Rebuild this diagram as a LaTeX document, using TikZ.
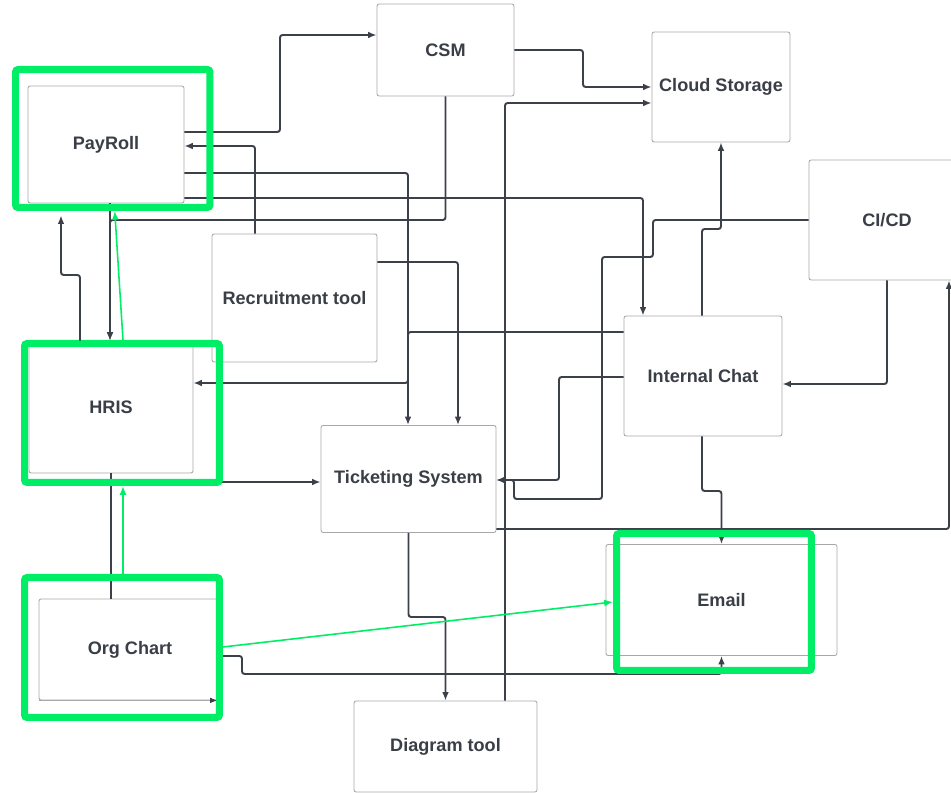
\documentclass[tikz,border=0pt]{standalone}
\usepackage{fontspec}
\setmainfont{Liberation Sans}
\usetikzlibrary{arrows.meta}
\definecolor{linec}{HTML}{3B4049}
\definecolor{boxc}{HTML}{A8A8A8}
\definecolor{hlgreen}{HTML}{00EE66}
\definecolor{textc}{HTML}{3A3E46}
\tikzset{
  sysbox/.style={draw=boxc, line width=0.5pt, fill=white, rounded corners=1.2pt, inner sep=0pt,
    font=\fontsize{10.3}{12}\selectfont\bfseries, text=textc},
  conn/.style={draw=linec, line width=1.1pt, rounded corners=1.5pt, -{Latex[length=4.8pt,width=3.8pt]}},
  plainconn/.style={draw=linec, line width=1.1pt},
  hlframe/.style={draw=hlgreen, line width=4pt, rounded corners=1.5pt, inner sep=0pt},
  hlarrow/.style={draw=hlgreen, line width=0.9pt, -{Latex[length=5pt,width=4pt]}},
}
\begin{document}
\begin{tikzpicture}[x=0.02cm, y=-0.02cm]
\useasboundingbox (0,0) rectangle (951,793);
\clip (0,0) rectangle (951,793);
%\draw[help lines, gray, step=50] (0,0) grid (951,793);
\node[sysbox, minimum width=3.12cm, minimum height=2.34cm] (payroll) at (106,144.5) {PayRoll};
\node[sysbox, minimum width=2.74cm, minimum height=1.84cm] (csm) at (445.5,50) {CSM};
\node[sysbox, minimum width=2.76cm, minimum height=2.2cm] (cloud) at (721,87) {Cloud Storage};
\node[sysbox, minimum width=3.12cm, minimum height=2.4cm] (cicd) at (887,220) {CI/CD};
\node[sysbox, minimum width=3.3cm, minimum height=2.56cm] (recruit) at (294.5,298) {Recruitment tool};
\node[sysbox, minimum width=3.28cm, minimum height=2.64cm] (hris) at (111,407) {HRIS};
\node[sysbox, minimum width=3.5cm, minimum height=2.14cm] (ticket) at (408.5,479) {Ticketing System};
\node[sysbox, minimum width=3.16cm, minimum height=2.4cm] (chat) at (703,376) {Internal Chat};
\node[sysbox, minimum width=4.62cm, minimum height=2.22cm] (email) at (721.5,600) {Email};
\node[sysbox, minimum width=3.64cm, minimum height=2.02cm] (org) at (130,649.5) {Org Chart};
\node[sysbox, minimum width=3.66cm, minimum height=1.82cm] (diagram) at (445.5,746.5) {Diagram tool};
\draw[draw=boxc, line width=0.5pt, -{Latex[length=4.2pt,width=3.2pt,color=linec]}] (org.south west) -- ([xshift=-0.08cm]org.south east);

\draw[conn] (payroll.east |- 0,132) -| (280,35) -- (csm.west |- 0,35);
\draw[conn] (recruit.north -| 255,0) |- (payroll.east |- 0,146);
\draw[conn] (payroll.east |- 0,173) -| (ticket.north -| 408,0);
\draw[conn] (payroll.east |- 0,198) -| (chat.north -| 643,0);
\draw[conn] (csm.south) |- (110,220) -- (hris.north -| 110,0);
\draw[conn] (payroll.south -| 110,0) -- (hris.north -| 110,0);
\draw[plainconn] (org.north -| 111,0) -- (hris.south -| 111,0);
\draw[conn] (recruit.east |- 0,262) -| (ticket.north -| 458,0);
\draw[conn] (chat.west |- 0,332) -| (408,383) -- (hris.east |- 0,383);
\draw[conn] (chat.west |- 0,377) -| (559,480) -- (ticket.east |- 0,480);
\draw[conn] (cicd.west) -| (653,257) -| (602,499) -| (514,480) -- (ticket.east |- 0,480);
\draw[conn] (cicd.south) |- (chat.east |- 0,384);
\draw[conn] (chat.north -| 702,0) |- (721,229) -- (cloud.south);
\draw[conn] (chat.south -| 702,0) |- (721.5,491) -- (email.north);
\draw[conn] (csm.east) -| (583,87) -- (cloud.west |- 0,87);
\draw[conn] (diagram.north -| 505,0) |- (cloud.west |- 0,103);
\draw[conn] (ticket.south) |- (445.5,617) -- (diagram.north);
\draw[conn] (ticket.east |- 0,529) -| (cicd.south -| 949,0);
\draw[conn] (org.east |- 0,656) -| (242,674) -| (email.south);
\draw[conn] (hris.east |- 0,482) -- (ticket.west |- 0,482);

% highlighted systems
\node[hlframe, minimum width=3.89cm, minimum height=2.76cm] (payrollfr) at (112.75,138.5) {};
\node[hlframe, minimum width=3.9cm, minimum height=2.78cm] (hrisfr) at (122,413) {};
\node[hlframe, minimum width=3.9cm, minimum height=2.8cm] (orgfr) at (122,647.5) {};
\node[hlframe, minimum width=3.9cm, minimum height=2.74cm] (emailfr) at (714,602) {};
\draw[conn] (hris.north -| 80,0) |- (61,275) -- ([yshift=-0.09cm]payrollfr.south -| 61,0);
\draw[hlarrow] ([xshift=0.02cm]orgfr.north) -- ([xshift=0.02cm]hrisfr.south);
\draw[hlarrow] ([xshift=0.02cm]hrisfr.north) -- ([xshift=0.04cm]payrollfr.south);
\draw[hlarrow] ([yshift=0.01cm]orgfr.east) -- (emailfr.west);
\end{tikzpicture}
\end{document}
